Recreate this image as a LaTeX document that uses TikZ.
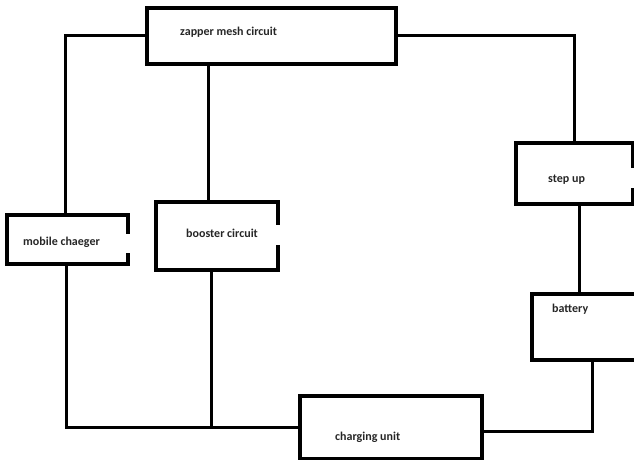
\documentclass[tikz,border=0pt]{standalone}
\usepackage{fontspec}
\setmainfont{Carlito}
\begin{document}
\begin{tikzpicture}[x=1pt,y=1pt,
  blk/.style={draw=black,line width=3.6pt,fill=none,inner sep=0pt,outer sep=0pt,rectangle},
  wire/.style={draw=black,line width=3pt},
  gap/.style={draw=white,line width=7pt},
  lbl/.style={anchor=mid west,inner sep=0pt,font=\fontsize{12}{14}\selectfont\bfseries,text=black!85}]
\path[use as bounding box] (0,0) rectangle (634,-460);
\clip (0,0) rectangle (634,-460);
\fill[white] (0,0) rectangle (634,-460);
% boxes
\node[blk,minimum width=249pt,minimum height=56pt] (zap) at (271.5,-36) {};
\node[blk,minimum width=121pt,minimum height=49pt] (mob) at (67.5,-239.5) {};
\node[blk,minimum width=122pt,minimum height=68pt] (boo) at (217,-236) {};
\node[blk,minimum width=117pt,minimum height=61pt] (stp) at (574.5,-173.5) {};
\node[blk,minimum width=110pt,minimum height=66pt] (bat) at (587,-327) {};
\node[blk,minimum width=182pt,minimum height=63pt] (chg) at (391,-427.5) {};
% gaps on right sides
\draw[gap] (mob.east) ++(0,6) -- ++(0,-19);
\draw[gap] (boo.east) ++(0,11) -- ++(0,-20);
\draw[gap] (stp.east) ++(0,5.5) -- ++(0,-20);
% labels
\node[lbl] (tzap) at (180,-33) {zapper mesh circuit};
\node[lbl] (tmob) at (23,-243) {mobile chaeger};
\node[lbl] (tboo) at (186,-235) {booster circuit};
\node[lbl] (tstp) at (548,-180) {step up};
\node[lbl] (tbat) at (552,-310) {battery};
\node[lbl] (tchg) at (335,-438) {charging unit};
% connectors
\draw[wire] (zap.west) -| ([xshift=-2.5pt]mob.north);
\draw[wire] ([xshift=-63pt]zap.south) -- ([xshift=-63pt]zap.south |- boo.north);
\draw[wire] (zap.east) -| (stp.north);
\draw[wire] ([xshift=4.5pt]stp.south) -- ([xshift=4.5pt]stp.south |- bat.north);
\draw[wire] ([xshift=5pt]bat.south) |- ([yshift=-4pt]chg.east);
\draw[wire] ([xshift=-1.5pt]mob.south) |- (chg.west);
\draw[wire] ([xshift=-6pt]boo.south) -- ([xshift=-6pt]boo.south |- chg.west);
\end{tikzpicture}
\end{document}
